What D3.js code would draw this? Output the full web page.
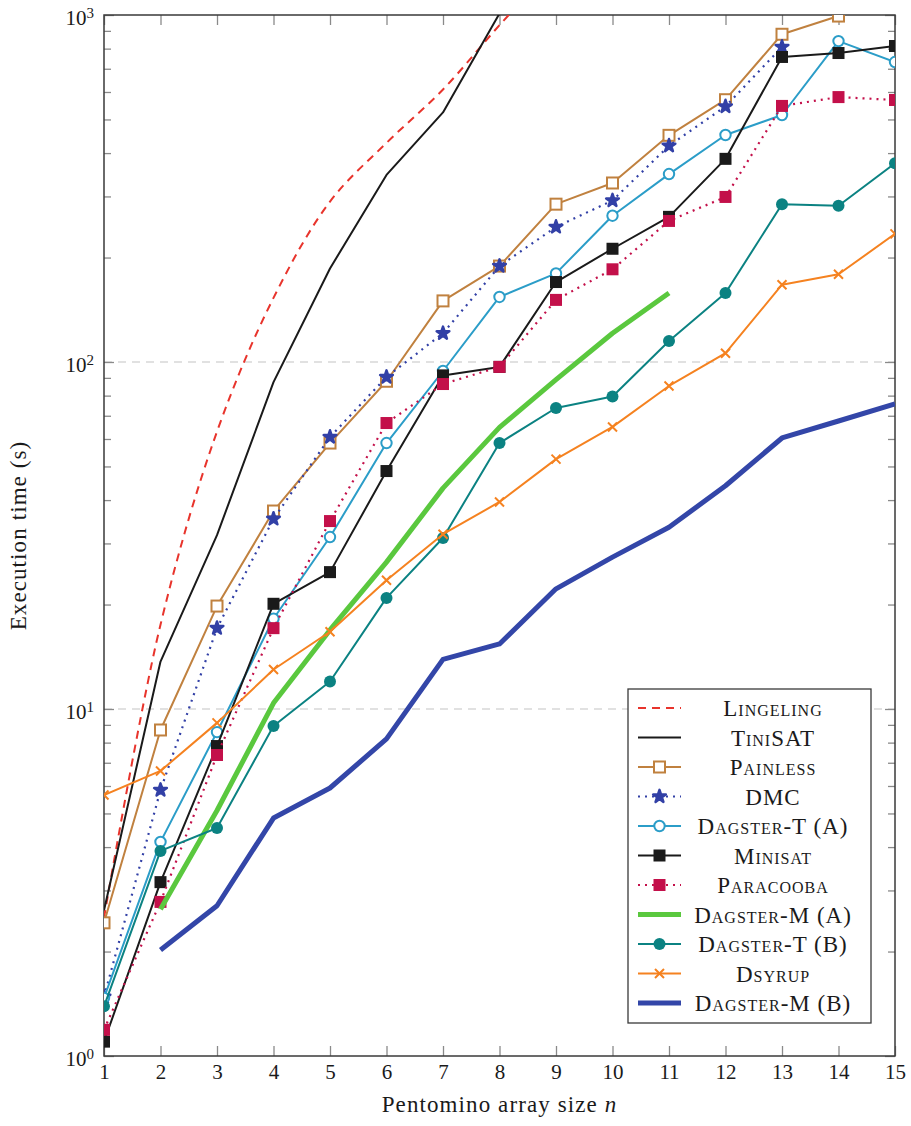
<!DOCTYPE html>
<html>
<head>
<meta charset="utf-8">
<title>pentomino runtimes</title>
<script src="https://cdn.jsdelivr.net/npm/d3@7"></script>
<style>
  body { margin: 0; background: #fff; }
  text { font-family: "Liberation Serif", "DejaVu Serif", serif; fill: #1a1a1a; }
  .tick-label { font-size: 21px; }
  .axis-label { font-size: 23px; letter-spacing: 1.1px; }
  .legend-text { font-size: 23px; font-variant: small-caps; letter-spacing: 1px; }
</style>
</head>
<body>
<svg width="911" height="1126"></svg>
<script>
// pentomino array size n
var sizes = [1, 2, 3, 4, 5, 6, 7, 8, 9, 10, 11, 12, 13, 14, 15];

// execution time (s), one value per size, null = no run
var lingeling   = [2.5, 17.5, 63, 153, 290, 428, 610, 935, 1400];
var tinisat     = [2.63, 13.7, 31.7, 87.5, 186, 346, 524, 1010, 2600];
var painless    = [2.42, 8.7, 19.8, 37.2, 58.4, 88, 150, 189, 285, 328, 450, 570, 880, 993];
var dmc         = [1.48, 5.84, 17.1, 35.3, 60.8, 90.5, 121, 189, 245, 292, 420, 545, 809];
var dagsterTA   = [1.47, 4.14, 8.58, 18.2, 31.3, 58.4, 94.2, 154, 180, 264, 348, 451, 515, 841, 732];
var minisat     = [1.1, 3.17, 7.82, 20.1, 24.8, 48.5, 91.5, 96.8, 170, 212, 262, 385, 757, 777, 814];
var paracooba   = [1.19, 2.78, 7.37, 17.1, 34.8, 66.7, 86.4, 96.8, 151, 185, 255, 299, 547, 580, 569];
var dagsterMA   = [null, 2.65, 5.1, 10.4, 16.9, 26.5, 43.3, 64.8, 89, 121, 158];
var dagsterTB   = [1.39, 3.9, 4.54, 8.93, 12.0, 20.9, 31.1, 58.4, 73.7, 79.5, 115, 158, 285, 282, 374];
var dsyrup      = [5.65, 6.63, 9.12, 13.0, 16.7, 23.5, 31.9, 39.5, 52.5, 65, 85.3, 106, 167, 179, 234];
var dagsterMB   = [null, 2.02, 2.71, 4.85, 5.92, 8.2, 13.9, 15.4, 22.2, 27.4, 33.4, 44, 60.4, 67.6, 75.7];

var names = ["Lingeling", "TiniSAT", "Painless", "DMC", "Dagster-T (A)", "Minisat",
             "Paracooba", "Dagster-M (A)", "Dagster-T (B)", "Dsyrup", "Dagster-M (B)"];
var values = [lingeling, tinisat, painless, dmc, dagsterTA, minisat,
              paracooba, dagsterMA, dagsterTB, dsyrup, dagsterMB];

var yMajor = [1, 10, 100, 1000];

// look of each series (same order as names)
var styles = [
  {color: "#e8342c", width: 2, dash: "8 6", mark: null, smooth: true},
  {color: "#1a1a1a", width: 2, dash: null, mark: null},
  {color: "#c0813f", width: 2, dash: null, mark: "square-open"},
  {color: "#3240a6", width: 2.2, dash: "2 5", mark: "star"},
  {color: "#2b9dc8", width: 2, dash: null, mark: "circle-open"},
  {color: "#1a1a1a", width: 2, dash: null, mark: "square"},
  {color: "#c3104a", width: 2.2, dash: "2 5", mark: "square"},
  {color: "#5ac83e", width: 5, dash: null, mark: null},
  {color: "#0b8282", width: 2, dash: null, mark: "circle"},
  {color: "#f58220", width: 2, dash: null, mark: "x"},
  {color: "#3346a8", width: 5, dash: null, mark: null}
];

var svg = d3.select("svg"),
    margin = {top: 15, right: 16, bottom: 70, left: 104},
    width = +svg.attr("width") - margin.left - margin.right,
    height = +svg.attr("height") - margin.top - margin.bottom;

var x = d3.scaleLinear().domain([1, 15]).range([0, width]);
var y = d3.scaleLog().domain([1, 1000]).range([height, 0]);

var g = svg.append("g").attr("transform", `translate(${margin.left},${margin.top})`);

svg.append("defs").append("clipPath").attr("id", "plot-clip")
  .append("rect").attr("width", width).attr("height", height);

// dashed grid at the decades
g.append("g").attr("class", "grid")
  .selectAll("line").data([10, 100]).enter().append("line")
  .attr("x1", 0).attr("x2", width)
  .attr("y1", d => y(d)).attr("y2", d => y(d))
  .attr("stroke", "#d8d8d8").attr("stroke-width", 1.5).attr("stroke-dasharray", "8 6");

// axes: inward ticks on all four sides
function styleAxis(sel) {
  sel.select(".domain").remove();
  sel.selectAll(".tick line").attr("stroke", "#8a8a8a").attr("stroke-width", 1.3);
}
var minor = y.ticks().filter(d => yMajor.indexOf(d) < 0);

g.append("g").attr("transform", `translate(0,${height})`)
  .call(d3.axisBottom(x).tickValues(sizes).tickSize(-10).tickPadding(8).tickFormat(d3.format("d")))
  .call(styleAxis)
  .call(a => a.selectAll("text").attr("class", "tick-label").attr("fill", "#1a1a1a"));
g.append("g")
  .call(d3.axisTop(x).tickValues(sizes).tickSize(-10).tickFormat(""))
  .call(styleAxis);

g.append("g")
  .call(d3.axisLeft(y).tickValues(yMajor).tickSize(-10).tickPadding(10).tickFormat(""))
  .call(styleAxis)
  .call(a => a.selectAll(".tick text").attr("dy", "0.45em").each(function(d) {
    var t = d3.select(this).attr("class", "tick-label").attr("fill", "#1a1a1a");
    t.append("tspan").text("10");
    t.append("tspan").attr("dy", -7).attr("font-size", 15).text(Math.round(Math.log10(d)));
  }));
g.append("g")
  .call(d3.axisLeft(y).tickValues(minor).tickSize(-7).tickFormat(""))
  .call(styleAxis);
g.append("g").attr("transform", `translate(${width},0)`)
  .call(d3.axisRight(y).tickValues(yMajor).tickSize(-10).tickFormat(""))
  .call(styleAxis);
g.append("g").attr("transform", `translate(${width},0)`)
  .call(d3.axisRight(y).tickValues(minor).tickSize(-7).tickFormat(""))
  .call(styleAxis);

// frame
g.append("rect").attr("width", width).attr("height", height)
  .attr("fill", "none").attr("stroke", "#3a3a3a").attr("stroke-width", 1.5);

// markers
function drawMark(sel, type, color) {
  if (type === "square-open") {
    sel.append("rect").attr("x", -5.5).attr("y", -5.5).attr("width", 11).attr("height", 11)
      .attr("fill", "#fff").attr("stroke", color).attr("stroke-width", 2);
  } else if (type === "square") {
    sel.append("rect").attr("x", -6).attr("y", -6).attr("width", 12).attr("height", 12)
      .attr("fill", color);
  } else if (type === "circle-open") {
    sel.append("circle").attr("r", 5.2).attr("fill", "#fff")
      .attr("stroke", color).attr("stroke-width", 2);
  } else if (type === "circle") {
    sel.append("circle").attr("r", 6).attr("fill", color);
  } else if (type === "x") {
    sel.append("path").attr("d", "M-4.5,-4.5L4.5,4.5M-4.5,4.5L4.5,-4.5")
      .attr("stroke", color).attr("stroke-width", 2).attr("fill", "none");
  } else if (type === "star") {
    sel.append("path").attr("d", d3.symbol(d3.symbolStar, 50)())
      .attr("fill", color).attr("stroke", color).attr("stroke-width", 2.5)
      .attr("stroke-linejoin", "round");
  }
}

var plot = g.append("g").attr("clip-path", "url(#plot-clip)");

names.forEach(function(name, i) {
  var st = styles[i];
  var pts = values[i].map((v, j) => ({n: sizes[j], v: v})).filter(p => p.v != null);
  var line = d3.line().x(p => x(p.n)).y(p => y(p.v))
    .curve(st.smooth ? d3.curveCatmullRom.alpha(0.5) : d3.curveLinear);
  var s = plot.append("g").attr("class", "series");
  s.append("path").datum(pts).attr("d", line)
    .attr("fill", "none").attr("stroke", st.color).attr("stroke-width", st.width)
    .attr("stroke-dasharray", st.dash).attr("stroke-linejoin", "round");
  if (st.mark) {
    s.selectAll(".mk").data(pts).enter().append("g").attr("class", "mk")
      .attr("transform", p => `translate(${x(p.n)},${y(p.v)})`)
      .each(function() { drawMark(d3.select(this), st.mark, st.color); });
  }
});

// axis titles
svg.append("text").attr("class", "axis-label")
  .attr("text-anchor", "middle")
  .attr("transform", `translate(${margin.left + width / 2},1112)`)
  .call(t => {
    t.append("tspan").text("Pentomino array size ");
    t.append("tspan").attr("font-style", "italic").text("n");
  });
svg.append("text").attr("class", "axis-label")
  .attr("text-anchor", "middle")
  .attr("transform", `translate(26,${margin.top + height / 2}) rotate(-90)`)
  .text("Execution time (s)");

// legend
var legend = svg.append("g").attr("transform", "translate(628,689)");
legend.append("rect").attr("width", 243).attr("height", 334)
  .attr("fill", "#fff").attr("stroke", "#3a3a3a").attr("stroke-width", 1.3);
names.forEach(function(name, i) {
  var st = styles[i];
  var row = legend.append("g").attr("transform", `translate(0,${19 + i * 29.5})`);
  row.append("line").attr("x1", 10).attr("x2", 53)
    .attr("stroke", st.color).attr("stroke-width", st.width).attr("stroke-dasharray", st.dash);
  if (st.mark) drawMark(row.append("g").attr("transform", "translate(31.5,0)"), st.mark, st.color);
  row.append("text").attr("class", "legend-text")
    .attr("x", 145).attr("dy", "0.35em").attr("text-anchor", "middle").text(name);
});
</script>
</body>
</html>
